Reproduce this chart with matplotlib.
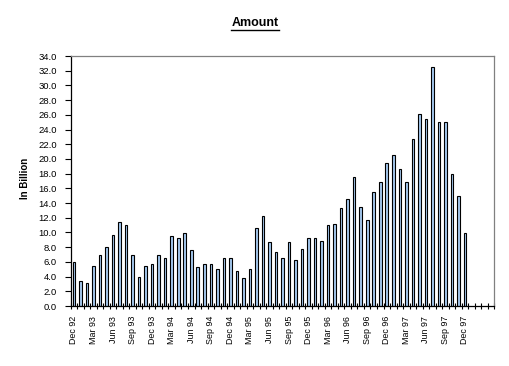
import matplotlib
matplotlib.use("Agg")
import matplotlib.pyplot as plt
from matplotlib.lines import Line2D
import numpy as np

plt.rcParams['font.family'] = ['Liberation Sans', 'DejaVu Sans']

values = [6.0, 3.4, 3.1, 5.4, 7.0, 8.0, 9.6, 11.4, 11.0, 7.0, 3.9, 5.5,
          5.7, 6.9, 6.5, 9.5, 9.2, 9.9, 7.6, 5.3, 5.7, 5.7, 5.0,
          6.5, 6.5, 4.7, 3.8, 5.1, 10.6, 12.3, 8.7, 7.4, 6.5, 8.7, 6.3,
          7.7, 9.2, 9.2, 8.9, 11.0, 11.2, 13.3, 14.6, 17.6, 13.4, 11.65, 15.5,
          16.8, 19.5, 20.5, 18.7, 16.8, 22.7, 26.1, 25.5, 32.5, 25.0, 25.0, 17.9,
          14.9, 9.9]
tick_labels = ["Dec 92", "Mar 93", "Jun 93", "Sep 93", "Dec 93", "Mar 94", "Jun 94",
               "Sep 94", "Dec 94", "Mar 95", "Jun 95", "Sep 95", "Dec 95", "Mar 96",
               "Jun 96", "Sep 96", "Dec 96", "Mar 97", "Jun 97", "Sep 97", "Dec 97"]
n_slots = 65

fig = plt.figure(figsize=(5.09, 3.66), dpi=100)
ax = fig.add_axes([70.7/509, 1-306/366, (494.3-70.7)/509, (306-56)/366])

x = np.arange(len(values))
ax.bar(x, values, width=0.4, color='#a6caf0', edgecolor='black', linewidth=0.8)

ax.set_xlim(-0.5, n_slots - 0.5)
ax.set_ylim(0, 34)
ax.set_yticks(np.arange(0, 34.1, 2))
ax.set_yticklabels([f"{v:.1f}" for v in np.arange(0, 34.1, 2)], fontsize=6.8)
ax.tick_params(axis='y', direction='out', length=4, width=0.8, pad=6)

ax.set_xticks(np.arange(0, 3*len(tick_labels), 3))
ax.set_xticklabels(tick_labels, rotation=90, fontsize=6.4)
ax.set_xticks(np.arange(-0.5, n_slots, 1), minor=True)
ax.tick_params(axis='x', which='major', length=0, pad=7)
ax.tick_params(axis='x', which='minor', direction='inout', length=5, width=0.8)

for s in ['left', 'bottom']:
    ax.spines[s].set_color('black')
    ax.spines[s].set_linewidth(0.9)
for s in ['top', 'right']:
    ax.spines[s].set_color('#808080')
    ax.spines[s].set_linewidth(0.9)

fig.text(25/509, 1-178/366, "In Billion", rotation=90, fontsize=7, fontweight='bold',
         ha='center', va='center')

title = fig.text(255/509, 1-23/366, "Amount", fontsize=9, fontweight='bold',
                 ha='center', va='center')
fig.canvas.draw()
bb = title.get_window_extent()
y_line = bb.y0 - 1
fig.add_artist(Line2D([bb.x0/ fig.bbox.width, bb.x1/ fig.bbox.width],
                      [y_line/ fig.bbox.height, y_line/ fig.bbox.height],
                      color='black', linewidth=1.0, transform=fig.transFigure))

fig.savefig("out.png", dpi=100)
